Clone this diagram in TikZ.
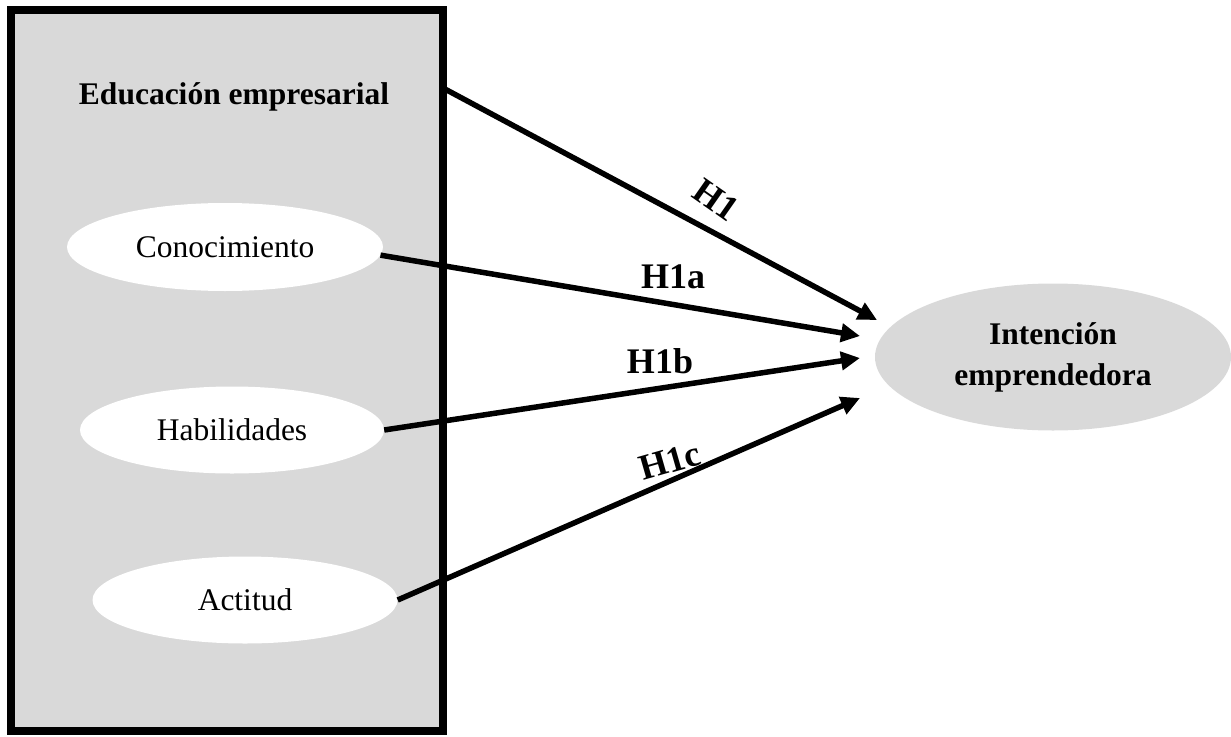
\documentclass[tikz,border=0pt]{standalone}
\usepackage{fontspec}
\setmainfont{Liberation Serif}
\usetikzlibrary{shapes.geometric,arrows.meta}
\definecolor{boxgray}{RGB}{217,217,217}
\begin{document}
\begin{tikzpicture}[x=1pt,y=-1pt,
  frame/.style={draw=black, line width=8pt, fill=boxgray, inner sep=0pt, outer sep=0pt},
  dim/.style={ellipse, fill=white, inner sep=0pt, font=\fontsize{31.5}{36}\selectfont},
  outcome/.style={ellipse, fill=boxgray, inner sep=0pt, align=center, font=\bfseries\fontsize{31.5}{41}\selectfont},
  hyp/.style={-{Triangle[length=19pt,width=18pt]}, line width=5.5pt},
  hlabel/.style={inner sep=0pt, font=\bfseries\fontsize{36}{40}\selectfont}]
\useasboundingbox (0,0) rectangle (1231,736);
\node[frame, minimum width=432pt, minimum height=721pt, anchor=north west] (box) at (11,10) {};
\node[font=\bfseries\fontsize{31.5}{36}\selectfont, anchor=base] (title) at (234,104) {Educación empresarial};
\node[dim, minimum width=316pt, minimum height=88pt] (con) at (225,247) {Conocimiento};
\node[dim, minimum width=304pt, minimum height=87pt] (hab) at (232,430) {Habilidades};
\node[dim, minimum width=305pt, minimum height=87pt] (act) at (245,600) {Actitud};
\node[outcome, minimum width=356pt, minimum height=147pt] (int) at (1053,357) {Intención\\emprendedora};
\path (box.north east) ++(0,78) coordinate (h1s);
\coordinate (t1) at (877,320);
\coordinate (t2) at (860,336);
\coordinate (t3) at (860,358);
\coordinate (t4) at (860,398);
\draw[hyp] (h1s) -- (t1);
\draw[hyp] (con.-3) -- (t2);
\draw[hyp] (hab.east) -- (t3);
\draw[hyp] (act.east) -- (t4);
\node[hlabel, rotate=-35] (l1) at (716,200) {H1};
\node[hlabel] (l1a) at (673,277) {H1a};
\node[hlabel] (l1b) at (660,361) {H1b};
\node[hlabel, rotate=16] (l1c) at (670,461) {H1c};
\end{tikzpicture}
\end{document}
